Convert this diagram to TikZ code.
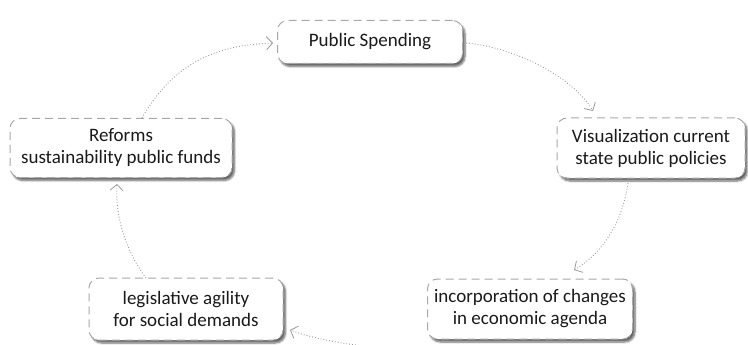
\documentclass[tikz,border=0pt]{standalone}
\usepackage{fontspec}
\setmainfont{Carlito}
\usetikzlibrary{arrows.meta,shadows.blur}
\definecolor{boxline}{HTML}{A8A8A8}
\definecolor{arrowc}{HTML}{9A9A9A}
\definecolor{txt}{HTML}{1A1A1A}
\tikzset{
  stepbox/.style={draw=boxline, line width=1pt, dash pattern=on 8pt off 5pt,
    rounded corners=10pt, fill=white, align=center, text=txt,
    font=\fontsize{19}{22}\selectfont, inner sep=0pt,
    blur shadow={shadow xshift=2.5pt, shadow yshift=-3pt, shadow blur steps=6, shadow opacity=60}},
  flow/.style={draw=arrowc, line width=0.9pt, dotted,
    -{Straight Barb[length=6pt,width=13pt,line width=0.8pt]}}
}
\begin{document}
\begin{tikzpicture}[x=1pt,y=-1pt]
\useasboundingbox (0,0) rectangle (748,345);
\node[stepbox, minimum width=185pt, minimum height=43pt] (ps) at (370,42) {Public Spending};
\node[stepbox, minimum width=222pt, minimum height=59pt] (rf) at (121,148) {Reforms\\sustainability public funds};
\node[stepbox, minimum width=188pt, minimum height=60pt] (vz) at (651,148) {Visualization current\\state public policies};
\node[stepbox, minimum width=194pt, minimum height=62pt] (lg) at (186,309) {legislative agility\\for social demands};
\node[stepbox, minimum width=205pt, minimum height=60pt] (ic) at (530,309) {incorporation of changes\\in economic agenda};
\coordinate (a1s) at (142,118);
\coordinate (a1e) at (273,43);
\draw[flow] (a1s) .. controls (175,60) and (220,45) .. (a1e);
\coordinate (a2s) at (466,43);
\coordinate (a2e) at (593,111);
\draw[flow] (a2s) .. controls (520,48) and (575,80) .. (a2e);
\coordinate (a3s) at (628,183);
\coordinate (a3e) at (574,270);
\draw[flow] (a3s) .. controls (622,225) and (600,255) .. (a3e);
\coordinate (a4s) at (428,346);
\coordinate (a4e) at (290,330);
\draw[flow] (a4s) .. controls (400,352) and (330,345) .. (a4e);
\coordinate (a5s) at (146,278);
\coordinate (a5e) at (117,184);
\draw[flow] (a5s) .. controls (125,250) and (115,215) .. (a5e);
\end{tikzpicture}
\end{document}
